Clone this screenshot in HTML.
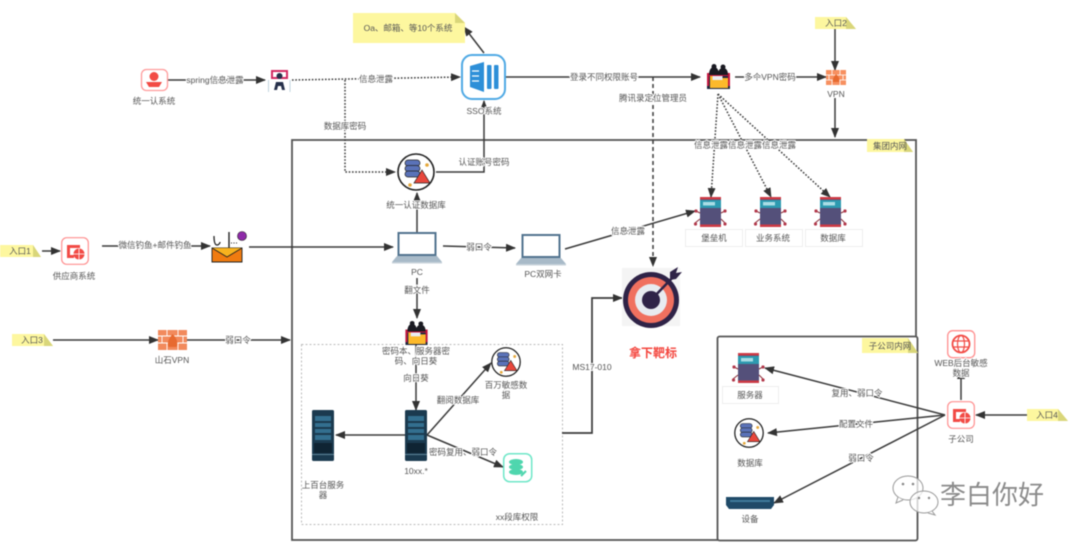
<!DOCTYPE html>
<html lang="zh">
<head>
<meta charset="utf-8">
<title>攻击路径图</title>
<style>
html,body{margin:0;padding:0;background:#fff;width:1080px;height:543px;overflow:hidden}
svg{display:block;filter:blur(.6px)}
text{font-family:"Liberation Sans","Noto Sans CJK SC",sans-serif;font-size:8.5px;fill:#555;text-anchor:middle;dominant-baseline:central}
.l{paint-order:stroke;stroke:#fff;stroke-width:2px;stroke-linejoin:round}
.c{fill:none;stroke:#3a3a3a;stroke-width:1.5;marker-end:url(#a)}
.d{stroke-dasharray:1.6 1.7}
.dd{stroke-dasharray:4 3}
</style>
</head>
<body>
<svg width="1080" height="543" viewBox="0 0 1080 543" xmlns="http://www.w3.org/2000/svg">
<defs>
<marker id="a" markerUnits="userSpaceOnUse" markerWidth="10" markerHeight="8" refX="9" refY="4" orient="auto"><path d="M0 0L10 4L0 8Z" fill="#333"/></marker>
<symbol id="hack" viewBox="0 0 23 26" overflow="visible">
<path d="M0 10h23v16H0z" fill="#1d2740"/><path d="M0 10h23v3H0zM0 10h2v13H0zM21 10h2v13h-2z" fill="#c8173f"/>
<path d="M3 13h7l1.500 2H21v10H3z" fill="#fdb92b"/><path d="M5.500 13h10v4h-10z" fill="#e9edf5"/>
<circle cx="7" cy="3.500" r="2.500" fill="#1a1a22"/><circle cx="16" cy="4" r="2.500" fill="#1a1a22"/>
<path d="M2 12c0-5 2-8 5-8s5 3 5 8zM11 12c0-5 2-7 5-7s5 2 5 7z" fill="#1a1a22"/>
</symbol>
<symbol id="srv" viewBox="0 0 32 30" overflow="visible">
<rect x="6" y="0" width="21" height="30" fill="#54507a"/>
<rect x="6" y="0" width="21" height="2.500" fill="#cc3a45"/><rect x="6" y="27.500" width="21" height="2.500" fill="#cc3a45"/>
<rect x="6" y="3" width="21" height="8" fill="#2d9ab0"/><rect x="9" y="5" width="12" height="3.500" fill="#a9dde5"/>
<path d="M6 16L2 14M6 22L1 26M27 16L31 14M27 22L31 26" stroke="#8a2f3a" stroke-width="1" fill="none"/>
<g fill="#b2384a"><circle cx="2" cy="14" r="1.600"/><circle cx="1.500" cy="27" r="1.600"/><circle cx="31" cy="14" r="1.600"/><circle cx="31" cy="27" r="1.600"/></g>
</symbol>
<symbol id="db" viewBox="0 0 38 38" overflow="visible">
<circle cx="19" cy="19" r="18" fill="#fff" stroke="#222" stroke-width="1.600"/>
<rect x="8" y="7" width="15" height="6" rx="3" fill="#5a72b8" stroke="#222" stroke-width=".7"/>
<rect x="8" y="12.500" width="15" height="6" rx="3" fill="#5a72b8" stroke="#222" stroke-width=".7"/>
<rect x="8" y="18" width="15" height="6" rx="3" fill="#5a72b8" stroke="#222" stroke-width=".7"/>
<path d="M25 17L33 30H17Z" fill="#e8473c" stroke="#222" stroke-width=".7"/>
<circle cx="30" cy="12" r="1.800" fill="#e5a83b"/><circle cx="13" cy="32" r="1.800" fill="#e5a83b"/>
</symbol>
<symbol id="pc" viewBox="0 0 50 32" overflow="visible">
<rect x="6.500" y="1" width="37" height="22" fill="#fff" stroke="#52738f" stroke-width="2"/>
<path d="M5 24h40l5 6H0Z" fill="#a8bac8"/><rect x="0" y="30" width="50" height="1.500" fill="#c7d2da"/>
</symbol>
<symbol id="rack" viewBox="0 0 22 51" overflow="visible">
<rect width="22" height="51" rx="1.500" fill="#1b3a4f"/>
<rect x="3" y="6" width="16" height="5" fill="#336f8f"/><rect x="3" y="13" width="16" height="4" fill="#336f8f"/>
<rect x="3" y="19" width="16" height="4" fill="#336f8f"/><rect x="3" y="25" width="16" height="5" fill="#336f8f"/>
<rect x="2" y="33" width="18" height="10" fill="#0f2433"/><rect x="0" y="44" width="22" height="1" fill="#5d8296"/>
</symbol>
<symbol id="redpc" viewBox="0 0 28 28" overflow="visible">
<rect x=".7" y=".7" width="26.600" height="26.600" rx="5" fill="#fff" stroke="#ff8f8f" stroke-width="1.200"/>
<path d="M6 8h13v3H9v7h4v3H6Z" fill="#f24b45"/><circle cx="18" cy="17" r="5.500" fill="#f24b45"/>
<path d="M12.500 17h11M18 11.500v11" stroke="#fff" stroke-width=".8"/>
</symbol>
</defs>

<!-- containers -->
<rect x="292" y="140" width="624" height="400" fill="#fff" stroke="#555" stroke-width="1.800"/>
<rect x="717.500" y="336.500" width="200" height="204" rx="2" fill="#fff" stroke="#555" stroke-width="1.800"/>
<rect x="301.500" y="344.500" width="261" height="180" fill="none" stroke="#bbb" stroke-dasharray="2 2"/>

<!-- connectors -->
<path class="c" d="M484 53L464 27"/>
<path class="c" d="M168 80H265"/>
<path class="c d" d="M292 80L460 77"/>
<path class="c d" d="M345 80V172H395"/>
<path class="c" d="M436 172H484V101"/>
<path class="c" d="M417 232V193"/>
<path class="c" d="M102 246H210"/>
<path class="c" d="M249 247H393"/>
<path class="c" d="M42 251H60"/>
<path class="c" d="M443 246L515 248"/>
<path class="c" d="M565 249L695 211"/>
<path class="c" d="M506 77H700"/>
<path class="c dd" d="M653 77V266"/>
<path class="c" d="M735 77H826"/>
<path class="c" d="M835 29V70"/>
<path class="c" d="M835 98V137"/>
<path class="c d" d="M718 94L711 197"/>
<path class="c d" d="M718 94L771 197"/>
<path class="c d" d="M718 94L830 197"/>
<path class="c" d="M53 340H158"/>
<path class="c" d="M187 340H290"/>
<path class="c" d="M417 278V318"/>
<path class="c" d="M416 345V410"/>
<path class="c" d="M405 435H336"/>
<path class="c" d="M427 435L491 363"/>
<path class="c" d="M427 435L503 467"/>
<path class="c" d="M562 433H592V298H622" style="stroke-width:1.700"/>
<path class="c" d="M945 415L765 368"/>
<path class="c" d="M945 415L768 433"/>
<path class="c" d="M945 415L774 503"/>
<path class="c" d="M961 400V370"/>
<path class="c" d="M1027 415H976"/>

<!-- notes -->
<g fill="#fdf79f">
<path d="M353 13H455L465 23V43H353Z"/>
<path d="M0 245H33L41 257H0Z"/>
<path d="M815 17H846L856 29H815Z"/>
<path d="M867 139H904L913 152H867Z"/>
<path d="M12 334H44L53 346H12Z"/>
<path d="M862 338H908L918 353H862Z"/>
<path d="M1027 409H1058L1068 421H1027Z"/>
</g>
<g fill="#d9d67a">
<path d="M455 13L465 23H455Z"/><path d="M33 245L41 257H33Z"/><path d="M846 17L856 29H846Z"/>
<path d="M904 139L913 152H904Z"/><path d="M44 334L53 346H44Z"/><path d="M908 338L918 353H908Z"/><path d="M1058 409L1068 421H1058Z"/>
</g>

<!-- SSO -->
<rect x="462" y="55" width="43" height="44" rx="10" fill="#fff" stroke="#4fa9e4" stroke-width="2"/>
<path d="M470 66L484 62V92L470 87Z" fill="#2d8fd8"/>
<rect x="487" y="65" width="4.500" height="24" rx="1" fill="#2d8fd8"/><rect x="494" y="65" width="4.500" height="24" rx="1" fill="#2d8fd8"/>
<path d="M472 71h7M472 76h7M472 81h7" stroke="#fff" stroke-width="1.200"/>

<!-- 统一认系统 -->
<rect x="141.500" y="69.500" width="26" height="21" rx="5" fill="#fff" stroke="#ff9a9a" stroke-width="1.300"/>
<circle cx="154" cy="76.500" r="4.500" fill="#f24b45"/><path d="M146 82h16l-3 5h-10Z" fill="#f24b45"/>

<!-- attacker top -->
<rect x="268" y="68" width="22" height="24" fill="#fff"/>
<path d="M272 71h15v7h-15Z" fill="none" stroke="#d22a62" stroke-width="2"/>
<circle cx="279.500" cy="76" r="3" fill="#26304a"/><path d="M274 90l2-8h7l2 8h-3l-1-4h-3l-1 4Z" fill="#26304a"/>
<path d="M268.500 80v12M290 80v12" stroke="#bcd0dc" stroke-width=".9"/>

<!-- phishing -->
<path d="M212 248H242V262H212Z" fill="#f07b10" stroke="#222" stroke-width=".9"/>
<path d="M212 248L227 257L242 248" fill="#f8b21e" stroke="#222" stroke-width=".9"/>
<path d="M214 236c0 6 1 9 3 9s3-2 3-3" fill="none" stroke="#222" stroke-width="1.300"/>
<path d="M229 232V248" stroke="#222" stroke-width="1.400"/>
<circle cx="242" cy="236" r="4.500" fill="#8e2aa8" stroke="#222" stroke-width=".6"/>
<path d="M231 243h7" stroke="#222" stroke-dasharray="1 1.500"/>

<use href="#redpc" x="61" y="237" width="28" height="28"/>
<use href="#db" x="397" y="153" width="38" height="38"/>
<use href="#pc" x="392" y="232" width="50" height="32"/>
<use href="#pc" x="516" y="234" width="50" height="32"/>
<use href="#hack" x="707" y="63" width="23" height="26"/>
<use href="#hack" x="405" y="320" width="23" height="25"/>

<!-- VPN firewalls -->
<rect x="826" y="70" width="20" height="15" fill="#f79060"/>
<path d="M826 75h20M826 80h20M832 70v5M840 70v5M829 75v5M843 75v5M832 80v5M840 80v5" stroke="#fff" stroke-width=".8"/>
<path d="M836 74c3 3 4 5 3 8h-6c-1-3 1-5 3-8Z" fill="#e76a30"/>
<rect x="158" y="330" width="29" height="20" fill="#f28a5c"/>
<path d="M158 336h29M158 343h29M167 330v6M178 330v6M162 336v7M183 336v7M167 343v7M178 343v7" stroke="#fff" stroke-width=".9"/>
<path d="M172.500 334c4 4 6 8 4 13h-8c-2-5 1-9 4-13Z" fill="#e76a30"/>

<!-- servers -->
<use href="#srv" x="694" y="197" width="32" height="30"/>
<use href="#srv" x="754" y="197" width="32" height="30"/>
<use href="#srv" x="814" y="197" width="32" height="30"/>
<g fill="#fff" stroke="#eee"><rect x="685.500" y="229.500" width="57" height="17"/><rect x="745.500" y="229.500" width="57" height="17"/><rect x="805.500" y="229.500" width="57" height="17"/><rect x="722.500" y="386.500" width="56" height="17"/></g>
<use href="#srv" x="732" y="353" width="32" height="30"/>

<!-- target -->
<rect x="622" y="268" width="58" height="58" fill="#f4f4f4"/>
<circle cx="651" cy="300" r="28" fill="#2f2347"/><circle cx="651" cy="300" r="23" fill="#f0705f"/>
<circle cx="651" cy="300" r="16" fill="#e8ebf0"/><circle cx="651" cy="300" r="9" fill="#2f2347"/>
<path d="M651 300L675 275" stroke="#2f2347" stroke-width="2.500"/>
<path d="M670 272l8-5-2 6 6-1-6 7-6 1Z" fill="#2f2347"/>

<!-- racks -->
<use href="#rack" x="405" y="410" width="22" height="51"/>
<use href="#rack" x="312" y="410" width="22" height="51"/>
<use href="#db" x="491" y="347" width="30" height="30"/>
<use href="#db" x="734" y="418" width="30" height="30"/>

<!-- teal db -->
<rect x="503.700" y="453.700" width="28" height="28" rx="6" fill="#fff" stroke="#6fe7c8" stroke-width="1.500"/>
<ellipse cx="516" cy="462" rx="7" ry="3" fill="#4fd6ae"/><ellipse cx="516" cy="467" rx="7" ry="3" fill="#4fd6ae"/><ellipse cx="516" cy="472" rx="7" ry="3" fill="#4fd6ae"/>
<path d="M521 476l5-5" stroke="#4fd6ae" stroke-width="2"/>

<!-- switch -->
<path d="M726 497H774V505L771 509H729L726 505Z" fill="#1f4a68"/><rect x="730" y="500" width="40" height="2" fill="#3f7a9a"/>

<!-- subsidiary icons -->
<use href="#redpc" x="947" y="401" width="28" height="28"/>
<rect x="947.700" y="330.700" width="27" height="27" rx="5" fill="#fff" stroke="#ff8f8f" stroke-width="1.300"/>
<circle cx="961" cy="344" r="8.500" fill="none" stroke="#f24b45" stroke-width="1.800"/>
<ellipse cx="961" cy="344" rx="3.500" ry="8.500" fill="none" stroke="#f24b45" stroke-width="1.200"/>
<path d="M953 341h16M953 347h16" stroke="#f24b45" stroke-width="1.200"/>

<!-- labels -->
<text x="408" y="28">Oa、邮箱、等10个系统</text>
<text x="154" y="101">统一认系统</text>
<text class="l" x="215" y="80">spring信息泄露</text>
<text class="l" x="376" y="79">信息泄露</text>
<text class="l" x="345" y="126">数据库密码</text>
<text class="l" x="484" y="111">SSO系统</text>
<text class="l" x="416" y="205">统一认证数据库</text>
<text class="l" x="484" y="162">认证账号密码</text>
<text class="l" x="155" y="245">微信钓鱼+邮件钓鱼</text>
<text x="20" y="251">入口1</text>
<text x="74" y="276">供应商系统</text>
<text x="417" y="272">PC</text>
<text class="l" x="479" y="247">弱口令</text>
<text x="543" y="274">PC双网卡</text>
<text class="l" x="628" y="231">信息泄露</text>
<text class="l" x="604" y="77">登录不同权限账号</text>
<text class="l" x="653" y="98">腾讯录定位管理员</text>
<text class="l" x="770" y="77">多个VPN密码</text>
<text x="836" y="23">入口2</text>
<text class="l" x="836" y="94">VPN</text>
<text class="l" x="745" y="145">信息泄露信息泄露信息泄露</text>
<text x="890" y="146">集团内网</text>
<text x="714" y="238">堡垒机</text>
<text x="773" y="238">业务系统</text>
<text x="833" y="238">数据库</text>
<text x="32" y="340">入口3</text>
<text x="172" y="360">山石VPN</text>
<text class="l" x="238" y="340">弱口令</text>
<text class="l" x="417" y="290">翻文件</text>
<text class="l" x="416" y="351">密码本、服务器密</text>
<text class="l" x="416" y="361">码、向日葵</text>
<text class="l" x="416" y="378">向日葵</text>
<text x="416" y="471">10xx.*</text>
<text x="323" y="485">上百台服务</text>
<text x="323" y="495">器</text>
<text class="l" x="458" y="400">翻阅数据库</text>
<text x="506" y="385">百万敏感数</text>
<text x="506" y="395">据</text>
<text class="l" x="463" y="452">密码复用、弱口令</text>
<text x="517" y="517">xx段库权限</text>
<text class="l" x="592" y="367">MS17-010</text>
<text x="653" y="353" style="font-size:12px;font-weight:bold;fill:#f4473f">拿下靶标</text>
<text x="890" y="346">子公司内网</text>
<text x="750" y="395">服务器</text>
<text x="750" y="463">数据库</text>
<text x="750" y="519">设备</text>
<text class="l" x="857" y="393">复用、弱口令</text>
<text class="l" x="856" y="424">配置文件</text>
<text class="l" x="861" y="458">弱口令</text>
<text x="961" y="439">子公司</text>
<text class="l" x="961" y="363">WEB后台敏感</text>
<text class="l" x="961" y="373">数据</text>
<text x="1047" y="415">入口4</text>

<!-- watermark -->
<g fill="#fff" fill-opacity=".75" stroke="#999" stroke-width="1">
<ellipse cx="908" cy="488" rx="15" ry="12"/><path d="M898 497l-2 6 7-3"/>
<ellipse cx="924" cy="502" rx="14" ry="11"/><path d="M932 511l3 4-7-2"/>
</g>
<g fill="#888"><circle cx="903" cy="484" r="1.300"/><circle cx="913" cy="484" r="1.300"/><circle cx="919" cy="498" r="1.200"/><circle cx="929" cy="498" r="1.200"/></g>
<text x="992" y="495" style="font-size:26px;fill:#8b8b8b;paint-order:stroke;stroke:#fff;stroke-width:2px">李白你好</text>
</svg>
</body>
</html>
